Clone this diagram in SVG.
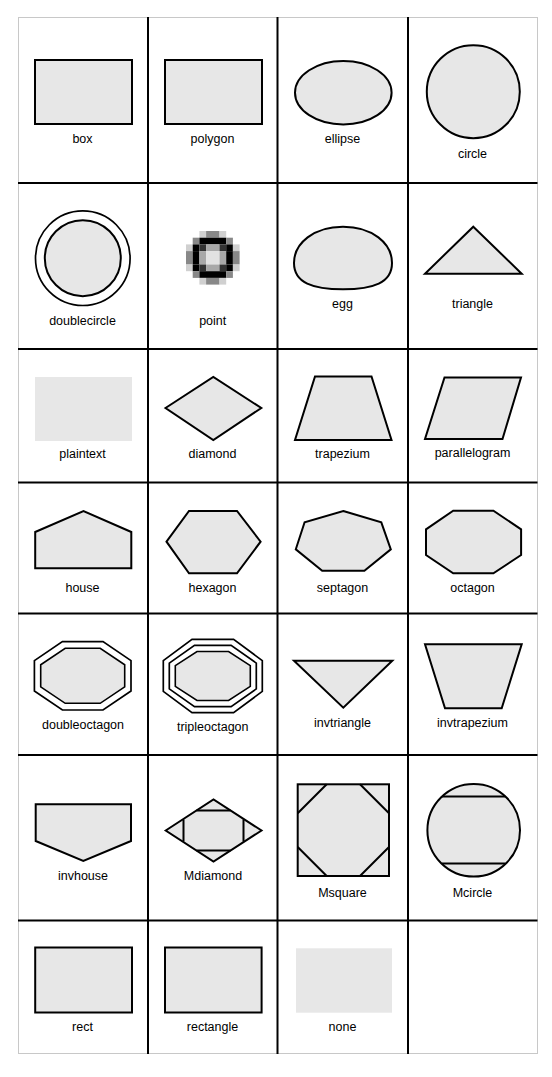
<svg xmlns="http://www.w3.org/2000/svg" width="552" height="1077" viewBox="0 0 552 1077">
<style>
.s{fill:#e7e7e7;stroke:#000;stroke-width:2;stroke-linejoin:miter}
.w{fill:#fff;stroke:#000;stroke-width:1.7}
.t{fill:#e7e7e7;stroke:#000;stroke-width:1.6}
.n{fill:#e7e7e7;stroke:none}
.l{fill:none;stroke:#000;stroke-width:2}
.g{stroke:#000;stroke-width:2}
text{font-family:"Liberation Sans",Arial,sans-serif;font-size:12.5px;fill:#000;text-anchor:middle}
</style>
<rect width="552" height="1077" fill="#fff"/>
<g id="grid">
<rect x="18.5" y="17.5" width="519" height="1036" fill="none" stroke="#c8c8c8" stroke-width="1"/>
<line class="g" x1="148" y1="17" x2="148" y2="1054"/>
<line class="g" x1="277.5" y1="17" x2="277.5" y2="1054"/>
<line class="g" x1="408" y1="17" x2="408" y2="1054"/>
<line class="g" x1="18" y1="183" x2="537.5" y2="183"/>
<line class="g" x1="18" y1="349" x2="537.5" y2="349"/>
<line class="g" x1="18" y1="482.5" x2="537.5" y2="482.5"/>
<line class="g" x1="18" y1="613.5" x2="537.5" y2="613.5"/>
<line class="g" x1="18" y1="755" x2="537.5" y2="755"/>
<line class="g" x1="18" y1="920.5" x2="537.5" y2="920.5"/>
</g>
<g id="connectors"/>
<g id="box"><rect class="s" x="35" y="60" width="97" height="64"/><text x="82.5" y="142.7">box</text></g>
<g id="polygon"><rect class="s" x="165" y="60" width="97" height="64"/><text x="212.5" y="142.7">polygon</text></g>
<g id="ellipse"><ellipse class="s" cx="343.3" cy="92.7" rx="48.3" ry="31.7"/><text x="342.5" y="142.5">ellipse</text></g>
<g id="circle"><circle class="s" cx="473.3" cy="91.7" r="46.5"/><text x="472.5" y="158.3">circle</text></g>
<g id="doublecircle"><circle class="w" cx="82.8" cy="258.2" r="47.3"/><circle class="s" cx="82.8" cy="258.2" r="38"/><text x="82.5" y="325">doublecircle</text></g>
<g id="point">
<g transform="translate(186,231) scale(6.7)">
<rect x="2" y="0" width="1" height="1" fill="#d0d0d0"/><rect x="3" y="0" width="2" height="1" fill="#888"/><rect x="5" y="0" width="1" height="1" fill="#d0d0d0"/>
<rect x="1" y="1" width="1" height="1" fill="#888"/><rect x="2" y="1" width="4" height="1" fill="#000"/><rect x="6" y="1" width="1" height="1" fill="#888"/>
<rect x="0" y="2" width="1" height="1" fill="#d0d0d0"/><rect x="1" y="2" width="1" height="1" fill="#000"/><rect x="2" y="2" width="1" height="1" fill="#333"/><rect x="3" y="2" width="2" height="1" fill="#a8a8a8"/><rect x="5" y="2" width="1" height="1" fill="#333"/><rect x="6" y="2" width="1" height="1" fill="#000"/><rect x="7" y="2" width="1" height="1" fill="#d0d0d0"/>
<rect x="0" y="3" width="1" height="2" fill="#888"/><rect x="1" y="3" width="1" height="2" fill="#000"/><rect x="2" y="3" width="1" height="2" fill="#a8a8a8"/><rect x="3" y="3" width="2" height="2" fill="#e2e2e2"/><rect x="5" y="3" width="1" height="2" fill="#a8a8a8"/><rect x="6" y="3" width="1" height="2" fill="#000"/><rect x="7" y="3" width="1" height="2" fill="#888"/>
<rect x="0" y="5" width="1" height="1" fill="#d0d0d0"/><rect x="1" y="5" width="1" height="1" fill="#000"/><rect x="2" y="5" width="1" height="1" fill="#333"/><rect x="3" y="5" width="2" height="1" fill="#a8a8a8"/><rect x="5" y="5" width="1" height="1" fill="#333"/><rect x="6" y="5" width="1" height="1" fill="#000"/><rect x="7" y="5" width="1" height="1" fill="#d0d0d0"/>
<rect x="1" y="6" width="1" height="1" fill="#888"/><rect x="2" y="6" width="4" height="1" fill="#000"/><rect x="6" y="6" width="1" height="1" fill="#888"/>
<rect x="2" y="7" width="1" height="1" fill="#d0d0d0"/><rect x="3" y="7" width="2" height="1" fill="#888"/><rect x="5" y="7" width="1" height="1" fill="#d0d0d0"/>
</g>
<text x="212.7" y="325">point</text></g>
<g id="egg"><path class="s" d="M294,263 C294,243 314,226.7 343,226.7 C372,226.7 392,243 392,263 C392,283 373,289.3 343,289.3 C313,289.3 294,283 294,263 Z"/><text x="342.5" y="308.3">egg</text></g>
<g id="triangle"><polygon class="s" points="473.3,226.7 521.7,273.7 425,273.7"/><text x="472.5" y="308.3">triangle</text></g>
<g id="plaintext"><rect class="n" x="35" y="377" width="97" height="64"/><text x="82.5" y="458.3">plaintext</text></g>
<g id="diamond"><polygon class="s" points="165.5,408 213.3,377 261.3,408 213.3,440"/><text x="212.5" y="458.3">diamond</text></g>
<g id="trapezium"><polygon class="s" points="315,376.5 371.5,376.5 391.5,440 295,440"/><text x="342.5" y="458.3">trapezium</text></g>
<g id="parallelogram"><polygon class="s" points="444.5,377.5 521,377.5 502.5,439 425,439"/><text x="472.5" y="456.7">parallelogram</text></g>
<g id="house"><polygon class="s" points="35.2,568.3 131.3,568.3 131.3,532 83.5,511 35.2,532"/><text x="82.5" y="591.7">house</text></g>
<g id="hexagon"><polygon class="s" points="166.5,541.7 189,511 237,511 260.6,541.7 237,573.3 189,573.3"/><text x="212.5" y="591.7">hexagon</text></g>
<g id="septagon"><polygon class="s" points="343.3,511 381.3,522.3 390.8,549.3 364.4,570.7 322.2,570.7 295.8,549.3 304.6,522.3"/><text x="342.5" y="591.7">septagon</text></g>
<g id="octagon"><polygon class="s" points="453.2,510.7 493.4,510.7 521.1,529.3 521.1,555 493.4,573.3 453.2,573.3 426,555 426,529.3"/><text x="472.5" y="591.7">octagon</text></g>
<g id="doubleoctagon">
<polygon class="w" points="62.4,641.6 103,641.6 131,660.6 131,691 103,710 62.4,710 34.4,691 34.4,660.6"/>
<polygon class="t" points="65.2,648.3 100.2,648.3 124.7,664.8 124.7,686.8 100.2,703.3 65.2,703.3 40.7,686.8 40.7,664.8"/>
<text x="83" y="729">doubleoctagon</text></g>
<g id="tripleoctagon">
<polygon class="w" points="192,639.3 233.6,639.3 262.3,660.6 262.3,691.4 233.6,712.7 192,712.7 163.3,691.4 163.3,660.6"/>
<polygon class="w" points="194.5,645.4 231.1,645.4 256.3,663.1 256.3,688.9 231.1,706.6 194.5,706.6 169.3,688.9 169.3,663.1"/>
<polygon class="t" points="197,651.5 228.6,651.5 250.3,665.7 250.3,686.3 228.6,700.5 197,700.5 175.3,686.3 175.3,665.7"/>
<text x="212.7" y="730.7">tripleoctagon</text></g>
<g id="invtriangle"><polygon class="s" points="294,660.7 392.3,660.7 343.3,707.7"/><text x="342.5" y="726.7">invtriangle</text></g>
<g id="invtrapezium"><polygon class="s" points="425,644.3 521.7,644.3 501.7,708.3 445,708.3"/><text x="472.5" y="726.7">invtrapezium</text></g>
<g id="invhouse"><polygon class="s" points="35.7,804.3 131,804.3 131,841 83.3,861 35.7,841"/><text x="83" y="880">invhouse</text></g>
<g id="Mdiamond"><polygon class="s" points="165.7,830.5 213.5,799.5 261.5,830.5 213.5,861.5"/>
<path class="l" d="M196.5,810.5H230.5M196.5,850.5H230.5M183.5,819.5V841.5M243.5,819.5V841.5"/>
<text x="213" y="880">Mdiamond</text></g>
<g id="Msquare"><rect class="s" x="297.7" y="784.3" width="91.3" height="91.7"/>
<path class="l" d="M326.7,784.3L297.7,813.3M360,784.3L389,813.3M297.7,847L326.7,876M389,847L360,876"/>
<text x="342.5" y="896.7">Msquare</text></g>
<g id="Mcircle"><circle class="s" cx="473.7" cy="830.2" r="46.3"/>
<path class="l" d="M442,796.5H505.4M442,863.5H505.4"/>
<text x="472.5" y="896.7">Mcircle</text></g>
<g id="rect"><rect class="s" x="35.2" y="947.5" width="96.8" height="65"/><text x="82.5" y="1030.7">rect</text></g>
<g id="rectangle"><rect class="s" x="165" y="947.5" width="96.6" height="65"/><text x="212.5" y="1030.7">rectangle</text></g>
<g id="none"><rect class="n" x="296" y="948.3" width="96" height="64.4"/><text x="342.5" y="1030.7">none</text></g>
</svg>
